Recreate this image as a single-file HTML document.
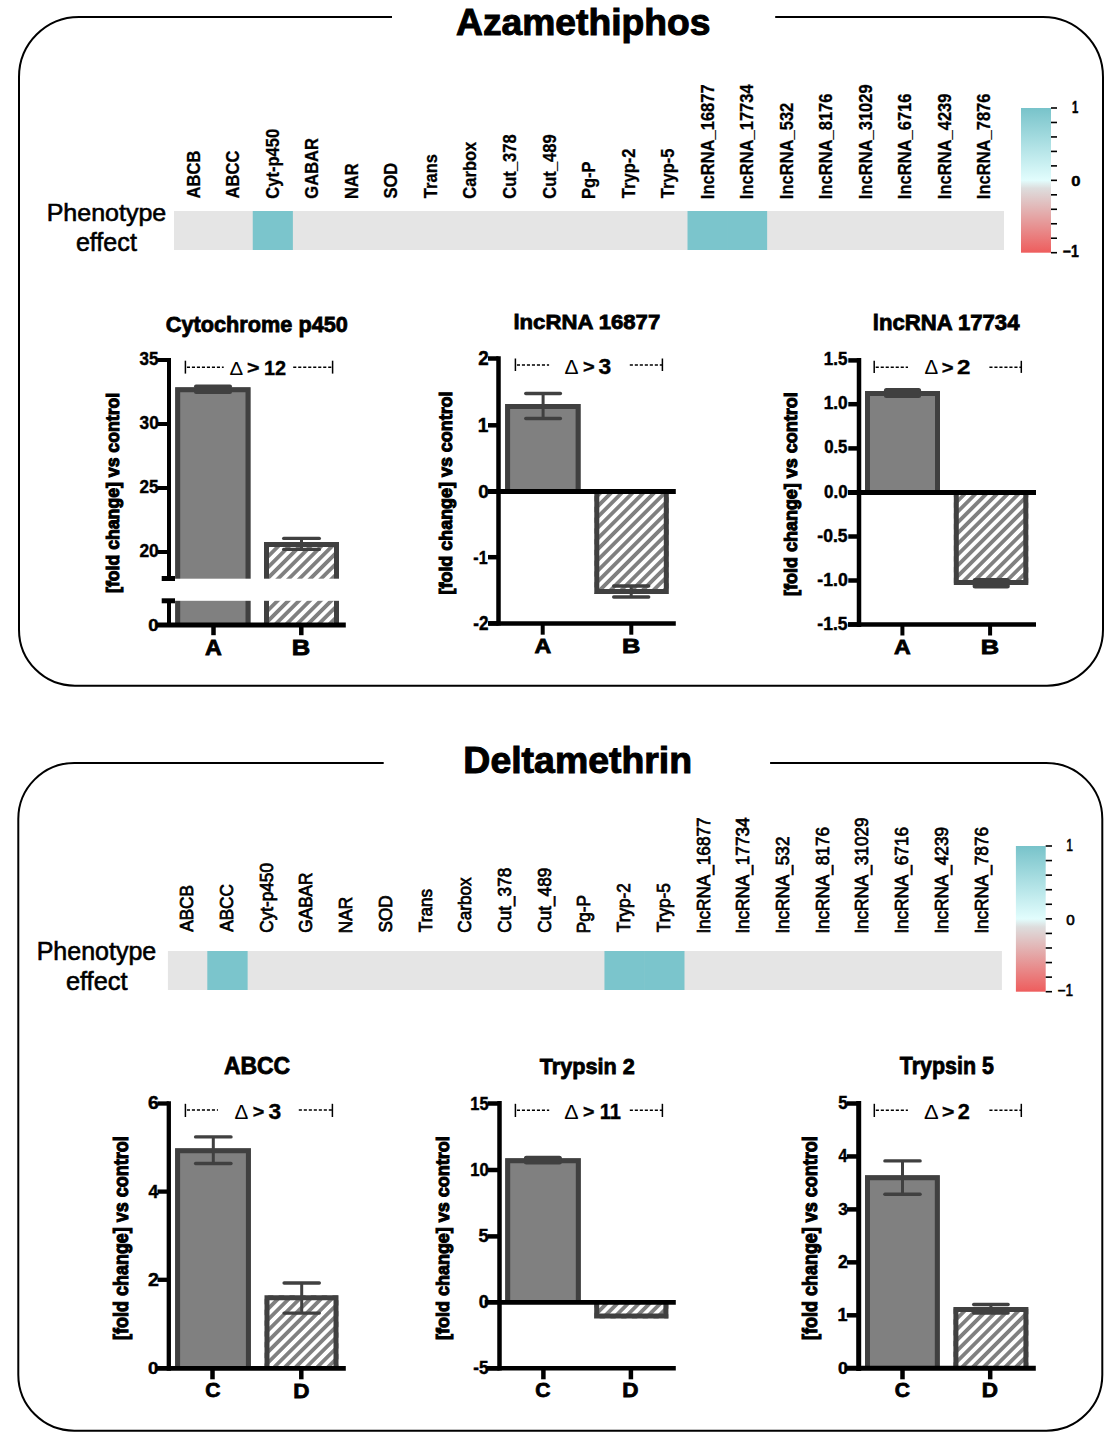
<!DOCTYPE html><html><head><meta charset="utf-8"><style>html,body{margin:0;padding:0;background:#fff;}svg{display:block;}</style></head><body><svg width="1117" height="1447" viewBox="0 0 1117 1447" style="font-family: 'Liberation Sans', sans-serif;">
<defs><pattern id="hatch" patternUnits="userSpaceOnUse" x="3.54" y="0" width="7.6" height="7.6" patternTransform="rotate(45)"><rect x="0" y="0" width="7.6" height="7.6" fill="#fff"/><rect x="0" y="0" width="3.8" height="7.6" fill="#808080"/></pattern></defs>
<rect x="0" y="0" width="1117" height="1447" fill="#fff"/>
<path d="M392,17 L79,17 A60,60 0 0 0 19,77 L19,629.7 A56,56 0 0 0 75,685.7 L1047,685.7 A56,56 0 0 0 1103,629.7 L1103,77 A60,60 0 0 0 1043,17 L775.2,17" fill="none" stroke="#000" stroke-width="2"/>
<text x="456.07" y="35.36" font-size="36.36" font-weight="bold" fill="#000" stroke="#000" stroke-width="1.0" textLength="254.39" lengthAdjust="spacingAndGlyphs">Azamethiphos</text>
<text x="46.7" y="220.66" font-size="24.49" font-weight="normal" fill="#000" stroke="#000" stroke-width="0.6" textLength="119.57" lengthAdjust="spacingAndGlyphs">Phenotype</text>
<text x="75.89" y="250.94" font-size="26.26" font-weight="normal" fill="#000" stroke="#000" stroke-width="0.6" textLength="61" lengthAdjust="spacingAndGlyphs">effect</text>
<rect x="174" y="211" width="830" height="39" fill="#e5e5e5"/>
<rect x="252.75" y="211" width="40.12" height="39" fill="#7bc5cc"/>
<rect x="687.51" y="211" width="40.12" height="39" fill="#7bc5cc"/>
<rect x="727.03" y="211" width="40.12" height="39" fill="#7bc5cc"/>
<text transform="translate(199.81,198.41) rotate(-90)" font-size="19" font-weight="bold" stroke="#000" stroke-width="0.3" textLength="47.75" lengthAdjust="spacingAndGlyphs">ABCB</text>
<text transform="translate(239.34,198.41) rotate(-90)" font-size="19" font-weight="bold" stroke="#000" stroke-width="0.3" textLength="47.75" lengthAdjust="spacingAndGlyphs">ABCC</text>
<text transform="translate(278.86,198.66) rotate(-90)" font-size="19" font-weight="bold" stroke="#000" stroke-width="0.3" textLength="69.82" lengthAdjust="spacingAndGlyphs">Cyt-p450</text>
<text transform="translate(318.38,198.66) rotate(-90)" font-size="19" font-weight="bold" stroke="#000" stroke-width="0.3" textLength="60.61" lengthAdjust="spacingAndGlyphs">GABAR</text>
<text transform="translate(357.91,199.07) rotate(-90)" font-size="19" font-weight="bold" stroke="#000" stroke-width="0.3" textLength="35.81" lengthAdjust="spacingAndGlyphs">NAR</text>
<text transform="translate(397.43,198.5) rotate(-90)" font-size="19" font-weight="bold" stroke="#000" stroke-width="0.3" textLength="35.82" lengthAdjust="spacingAndGlyphs">SOD</text>
<text transform="translate(436.95,198.17) rotate(-90)" font-size="19" font-weight="bold" stroke="#000" stroke-width="0.3" textLength="44.1" lengthAdjust="spacingAndGlyphs">Trans</text>
<text transform="translate(476.48,198.66) rotate(-90)" font-size="19" font-weight="bold" stroke="#000" stroke-width="0.3" textLength="56.95" lengthAdjust="spacingAndGlyphs">Carbox</text>
<text transform="translate(516,198.66) rotate(-90)" font-size="19" font-weight="bold" stroke="#000" stroke-width="0.3" textLength="64.31" lengthAdjust="spacingAndGlyphs">Cut_378</text>
<text transform="translate(555.53,198.66) rotate(-90)" font-size="19" font-weight="bold" stroke="#000" stroke-width="0.3" textLength="64.31" lengthAdjust="spacingAndGlyphs">Cut_489</text>
<text transform="translate(595.05,199.07) rotate(-90)" font-size="19" font-weight="bold" stroke="#000" stroke-width="0.3" textLength="37.65" lengthAdjust="spacingAndGlyphs">Pg-P</text>
<text transform="translate(634.57,198.17) rotate(-90)" font-size="19" font-weight="bold" stroke="#000" stroke-width="0.3" textLength="49.61" lengthAdjust="spacingAndGlyphs">Tryp-2</text>
<text transform="translate(674.1,198.17) rotate(-90)" font-size="19" font-weight="bold" stroke="#000" stroke-width="0.3" textLength="49.61" lengthAdjust="spacingAndGlyphs">Tryp-5</text>
<text transform="translate(713.62,199.16) rotate(-90)" font-size="19" font-weight="bold" stroke="#000" stroke-width="0.3" textLength="114.86" lengthAdjust="spacingAndGlyphs">lncRNA_16877</text>
<text transform="translate(753.15,199.16) rotate(-90)" font-size="19" font-weight="bold" stroke="#000" stroke-width="0.3" textLength="114.86" lengthAdjust="spacingAndGlyphs">lncRNA_17734</text>
<text transform="translate(792.67,199.16) rotate(-90)" font-size="19" font-weight="bold" stroke="#000" stroke-width="0.3" textLength="96.47" lengthAdjust="spacingAndGlyphs">lncRNA_532</text>
<text transform="translate(832.19,199.16) rotate(-90)" font-size="19" font-weight="bold" stroke="#000" stroke-width="0.3" textLength="105.66" lengthAdjust="spacingAndGlyphs">lncRNA_8176</text>
<text transform="translate(871.72,199.16) rotate(-90)" font-size="19" font-weight="bold" stroke="#000" stroke-width="0.3" textLength="114.86" lengthAdjust="spacingAndGlyphs">lncRNA_31029</text>
<text transform="translate(911.24,199.16) rotate(-90)" font-size="19" font-weight="bold" stroke="#000" stroke-width="0.3" textLength="105.66" lengthAdjust="spacingAndGlyphs">lncRNA_6716</text>
<text transform="translate(950.76,199.16) rotate(-90)" font-size="19" font-weight="bold" stroke="#000" stroke-width="0.3" textLength="105.66" lengthAdjust="spacingAndGlyphs">lncRNA_4239</text>
<text transform="translate(990.29,199.16) rotate(-90)" font-size="19" font-weight="bold" stroke="#000" stroke-width="0.3" textLength="105.66" lengthAdjust="spacingAndGlyphs">lncRNA_7876</text>
<defs><linearGradient id="cb1" x1="0" y1="0" x2="0" y2="1"><stop offset="0" stop-color="#78c3ca"/><stop offset="0.5" stop-color="#e2fdfd"/><stop offset="0.555" stop-color="#dddddd"/><stop offset="1" stop-color="#ee5d5d"/></linearGradient></defs>
<rect x="1021" y="108" width="30" height="144.7" fill="url(#cb1)"/>
<line x1="1051" y1="108" x2="1057" y2="108" stroke="#000" stroke-width="1.6" />
<line x1="1051" y1="122.47" x2="1057" y2="122.47" stroke="#000" stroke-width="1.6" />
<line x1="1051" y1="136.94" x2="1057" y2="136.94" stroke="#000" stroke-width="1.6" />
<line x1="1051" y1="151.41" x2="1057" y2="151.41" stroke="#000" stroke-width="1.6" />
<line x1="1051" y1="165.88" x2="1057" y2="165.88" stroke="#000" stroke-width="1.6" />
<line x1="1051" y1="180.35" x2="1057" y2="180.35" stroke="#000" stroke-width="1.6" />
<line x1="1051" y1="194.82" x2="1057" y2="194.82" stroke="#000" stroke-width="1.6" />
<line x1="1051" y1="209.29" x2="1057" y2="209.29" stroke="#000" stroke-width="1.6" />
<line x1="1051" y1="223.76" x2="1057" y2="223.76" stroke="#000" stroke-width="1.6" />
<line x1="1051" y1="238.23" x2="1057" y2="238.23" stroke="#000" stroke-width="1.6" />
<line x1="1051" y1="252.7" x2="1057" y2="252.7" stroke="#000" stroke-width="1.6" />
<text x="1072.12" y="113" font-size="15.8" font-weight="bold" fill="#000" stroke="#000" stroke-width="0.45" textLength="6.27" lengthAdjust="spacingAndGlyphs">1</text>
<text x="1071.23" y="185.66" font-size="14.37" font-weight="bold" fill="#000" stroke="#000" stroke-width="0.45" textLength="9.25" lengthAdjust="spacingAndGlyphs">0</text>
<text x="1062.63" y="256.7" font-size="16.52" font-weight="bold" fill="#000" stroke="#000" stroke-width="0.45" textLength="16.12" lengthAdjust="spacingAndGlyphs">−1</text>
<text x="165.83" y="331.85" font-size="22.14" font-weight="bold" fill="#000" stroke="#000" stroke-width="0.8" textLength="182.07" lengthAdjust="spacingAndGlyphs">Cytochrome p450</text>
<text transform="translate(118.96,592.97) rotate(-90)" x="0" y="0" font-size="19.25" font-weight="bold" fill="#000" stroke="#000" stroke-width="1.1" textLength="200.2" lengthAdjust="spacingAndGlyphs">[fold change] vs control</text>
<rect x="175.2" y="387.3" width="75.3" height="237.7" fill="#808080"/>
<path d="M177.7,625 L177.7,389.8 L248,389.8 L248,625" fill="none" stroke="#404040" stroke-width="5" stroke-linejoin="miter"/>
<rect x="264" y="542" width="75" height="83" fill="url(#hatch)"/>
<path d="M266.5,625 L266.5,544.5 L336.5,544.5 L336.5,625" fill="none" stroke="#404040" stroke-width="5" stroke-linejoin="miter"/>
<line x1="213" y1="386.5" x2="213" y2="392" stroke="#404040" stroke-width="3" />
<line x1="196" y1="386.5" x2="230" y2="386.5" stroke="#404040" stroke-width="4" stroke-linecap="round"/>
<line x1="196" y1="392" x2="230" y2="392" stroke="#404040" stroke-width="4" stroke-linecap="round"/>
<line x1="301.5" y1="538.4" x2="301.5" y2="549.4" stroke="#404040" stroke-width="3" />
<line x1="283.7" y1="538.4" x2="319.3" y2="538.4" stroke="#404040" stroke-width="3.4" stroke-linecap="round"/>
<line x1="283.7" y1="549.4" x2="319.3" y2="549.4" stroke="#404040" stroke-width="3.4" stroke-linecap="round"/>
<rect x="150" y="578.7" width="195" height="22.1" fill="#fff"/>
<line x1="169" y1="358" x2="169" y2="578.5" stroke="#000" stroke-width="4" />
<line x1="169" y1="600.8" x2="169" y2="627" stroke="#000" stroke-width="4" />
<line x1="161.7" y1="578.5" x2="175" y2="578.5" stroke="#000" stroke-width="5" />
<line x1="161.7" y1="600.8" x2="175" y2="600.8" stroke="#000" stroke-width="5" />
<line x1="157.3" y1="360" x2="169" y2="360" stroke="#000" stroke-width="4" />
<text x="139.58" y="365.31" font-size="19.01" font-weight="bold" fill="#000" stroke="#000" stroke-width="0.45" textLength="18.89" lengthAdjust="spacingAndGlyphs">35</text>
<line x1="157.3" y1="424" x2="169" y2="424" stroke="#000" stroke-width="4" />
<text x="139.57" y="429.31" font-size="19.01" font-weight="bold" fill="#000" stroke="#000" stroke-width="0.45" textLength="19.16" lengthAdjust="spacingAndGlyphs">30</text>
<line x1="157.3" y1="488" x2="169" y2="488" stroke="#000" stroke-width="4" />
<text x="139.4" y="493.31" font-size="19.01" font-weight="bold" fill="#000" stroke="#000" stroke-width="0.45" textLength="19.07" lengthAdjust="spacingAndGlyphs">25</text>
<line x1="157.3" y1="552" x2="169" y2="552" stroke="#000" stroke-width="4" />
<text x="139.39" y="557.31" font-size="19.01" font-weight="bold" fill="#000" stroke="#000" stroke-width="0.45" textLength="19.35" lengthAdjust="spacingAndGlyphs">20</text>
<text x="148.16" y="631.13" font-size="16.62" font-weight="bold" fill="#000" stroke="#000" stroke-width="0.45" textLength="10.3" lengthAdjust="spacingAndGlyphs">0</text>
<line x1="155.8" y1="625" x2="345.8" y2="625" stroke="#000" stroke-width="5" />
<line x1="213.5" y1="625" x2="213.5" y2="635.2" stroke="#000" stroke-width="4.5" />
<text x="205.12" y="655" font-size="21.74" font-weight="bold" fill="#000" stroke="#000" stroke-width="0.8" textLength="16.82" lengthAdjust="spacingAndGlyphs">A</text>
<line x1="301.3" y1="625" x2="301.3" y2="635.2" stroke="#000" stroke-width="4.5" />
<text x="291.84" y="655" font-size="21.74" font-weight="bold" fill="#000" stroke="#000" stroke-width="0.8" textLength="18.47" lengthAdjust="spacingAndGlyphs">B</text>
<line x1="185.4" y1="360.7" x2="185.4" y2="373.6" stroke="#000" stroke-width="1.5" />
<line x1="332.6" y1="360.7" x2="332.6" y2="373.6" stroke="#000" stroke-width="1.5" />
<line x1="186.9" y1="367.2" x2="223.7" y2="367.2" stroke="#000" stroke-width="1.5" stroke-dasharray="3.1,1.9"/>
<line x1="293.2" y1="367.2" x2="332.6" y2="367.2" stroke="#000" stroke-width="1.5" stroke-dasharray="3.1,1.9"/>
<text x="229.49" y="374.6" font-size="18.99" font-weight="normal" fill="#000" stroke="#000" stroke-width="0" textLength="13.69" lengthAdjust="spacingAndGlyphs">Δ</text>
<text x="247.14" y="373.56" font-size="17.59" font-weight="bold" fill="#000" stroke="#000" stroke-width="0.35" textLength="12.49" lengthAdjust="spacingAndGlyphs">&gt;</text>
<text x="264.01" y="374.6" font-size="20.43" font-weight="bold" fill="#000" stroke="#000" stroke-width="0.35" textLength="22.14" lengthAdjust="spacingAndGlyphs">12</text>
<text x="513.45" y="328.5" font-size="20.27" font-weight="bold" fill="#000" stroke="#000" stroke-width="0.8" textLength="146.8" lengthAdjust="spacingAndGlyphs">lncRNA 16877</text>
<text transform="translate(452.27,594.49) rotate(-90)" x="0" y="0" font-size="18.72" font-weight="bold" fill="#000" stroke="#000" stroke-width="1.1" textLength="203.03" lengthAdjust="spacingAndGlyphs">[fold change] vs control</text>
<rect x="505.1" y="404" width="75.5" height="87.5" fill="#808080"/>
<path d="M507.6,491.5 L507.6,406.5 L578.1,406.5 L578.1,491.5" fill="none" stroke="#404040" stroke-width="5" stroke-linejoin="miter"/>
<rect x="594.3" y="491.5" width="74.5" height="102.5" fill="url(#hatch)"/>
<path d="M596.8,491.5 L596.8,591.5 L666.3,591.5 L666.3,491.5" fill="none" stroke="#404040" stroke-width="5" stroke-linejoin="miter"/>
<line x1="543.1" y1="393.5" x2="543.1" y2="418.5" stroke="#404040" stroke-width="3" />
<line x1="525.8" y1="393.5" x2="560.4" y2="393.5" stroke="#404040" stroke-width="3.4" stroke-linecap="round"/>
<line x1="525.8" y1="418.5" x2="560.4" y2="418.5" stroke="#404040" stroke-width="3.4" stroke-linecap="round"/>
<line x1="631.2" y1="586" x2="631.2" y2="597" stroke="#404040" stroke-width="3" />
<line x1="613.7" y1="586" x2="648.7" y2="586" stroke="#404040" stroke-width="3.4" stroke-linecap="round"/>
<line x1="613.7" y1="597" x2="648.7" y2="597" stroke="#404040" stroke-width="3.4" stroke-linecap="round"/>
<line x1="498.5" y1="356.3" x2="498.5" y2="625.4" stroke="#000" stroke-width="4.5" />
<line x1="488" y1="358.5" x2="498.5" y2="358.5" stroke="#000" stroke-width="4.5" />
<line x1="488" y1="425.3" x2="498.5" y2="425.3" stroke="#000" stroke-width="4.5" />
<line x1="488" y1="557.2" x2="498.5" y2="557.2" stroke="#000" stroke-width="4.5" />
<line x1="488" y1="623.4" x2="498.5" y2="623.4" stroke="#000" stroke-width="4.5" />
<text x="478.34" y="365" font-size="19.29" font-weight="bold" fill="#000" stroke="#000" stroke-width="0.45" textLength="10.43" lengthAdjust="spacingAndGlyphs">2</text>
<text x="477.85" y="431.8" font-size="19.57" font-weight="bold" fill="#000" stroke="#000" stroke-width="0.45" textLength="10.65" lengthAdjust="spacingAndGlyphs">1</text>
<text x="478.24" y="497.81" font-size="19.01" font-weight="bold" fill="#000" stroke="#000" stroke-width="0.45" textLength="10.54" lengthAdjust="spacingAndGlyphs">0</text>
<text x="473.36" y="563.7" font-size="19.28" font-weight="bold" fill="#000" stroke="#000" stroke-width="0.45" textLength="14.23" lengthAdjust="spacingAndGlyphs">-1</text>
<text x="473.32" y="629.9" font-size="19.29" font-weight="bold" fill="#000" stroke="#000" stroke-width="0.45" textLength="15.15" lengthAdjust="spacingAndGlyphs">-2</text>
<line x1="488" y1="491.5" x2="675.8" y2="491.5" stroke="#000" stroke-width="5" />
<line x1="488.4" y1="623.4" x2="675.8" y2="623.4" stroke="#000" stroke-width="4.5" />
<line x1="542.7" y1="623" x2="542.7" y2="634.7" stroke="#000" stroke-width="4" />
<text x="534.42" y="652.8" font-size="20.29" font-weight="bold" fill="#000" stroke="#000" stroke-width="0.8" textLength="16.71" lengthAdjust="spacingAndGlyphs">A</text>
<line x1="631.3" y1="623" x2="631.3" y2="634.7" stroke="#000" stroke-width="4" />
<text x="621.95" y="652.8" font-size="20.29" font-weight="bold" fill="#000" stroke="#000" stroke-width="0.8" textLength="18.35" lengthAdjust="spacingAndGlyphs">B</text>
<line x1="515.4" y1="358.5" x2="515.4" y2="371" stroke="#000" stroke-width="1.5" />
<line x1="662.4" y1="358.5" x2="662.4" y2="371" stroke="#000" stroke-width="1.5" />
<line x1="516.9" y1="365" x2="549.1" y2="365" stroke="#000" stroke-width="1.5" stroke-dasharray="3.1,1.9"/>
<line x1="629.8" y1="365" x2="662.4" y2="365" stroke="#000" stroke-width="1.5" stroke-dasharray="3.1,1.9"/>
<text x="564.57" y="374" font-size="21.01" font-weight="normal" fill="#000" stroke="#000" stroke-width="0" textLength="14.02" lengthAdjust="spacingAndGlyphs">Δ</text>
<text x="583.1" y="372.56" font-size="17.59" font-weight="bold" fill="#000" stroke="#000" stroke-width="0.35" textLength="11.68" lengthAdjust="spacingAndGlyphs">&gt;</text>
<text x="598.43" y="373.77" font-size="22.54" font-weight="bold" fill="#000" stroke="#000" stroke-width="0.35" textLength="12.7" lengthAdjust="spacingAndGlyphs">3</text>
<text x="872.75" y="329.89" font-size="21.5" font-weight="bold" fill="#000" stroke="#000" stroke-width="0.8" textLength="146.72" lengthAdjust="spacingAndGlyphs">lncRNA 17734</text>
<text transform="translate(797.38,595.99) rotate(-90)" x="0" y="0" font-size="19.14" font-weight="bold" fill="#000" stroke="#000" stroke-width="1.1" textLength="203.73" lengthAdjust="spacingAndGlyphs">[fold change] vs control</text>
<rect x="865" y="391" width="75" height="101.6" fill="#808080"/>
<path d="M867.5,492.6 L867.5,393.5 L937.5,393.5 L937.5,492.6" fill="none" stroke="#404040" stroke-width="5" stroke-linejoin="miter"/>
<rect x="953.8" y="492.6" width="74.5" height="92.4" fill="url(#hatch)"/>
<path d="M956.3,492.6 L956.3,582.5 L1025.8,582.5 L1025.8,492.6" fill="none" stroke="#404040" stroke-width="5" stroke-linejoin="miter"/>
<line x1="902.5" y1="390.5" x2="902.5" y2="395.5" stroke="#404040" stroke-width="3" />
<line x1="886.4" y1="390.5" x2="918.6" y2="390.5" stroke="#404040" stroke-width="5" stroke-linecap="round"/>
<line x1="886.4" y1="395.5" x2="918.6" y2="395.5" stroke="#404040" stroke-width="5" stroke-linecap="round"/>
<line x1="991.2" y1="580.5" x2="991.2" y2="586" stroke="#404040" stroke-width="3" />
<line x1="975.1" y1="580.5" x2="1007.3" y2="580.5" stroke="#404040" stroke-width="5" stroke-linecap="round"/>
<line x1="975.1" y1="586" x2="1007.3" y2="586" stroke="#404040" stroke-width="5" stroke-linecap="round"/>
<line x1="859" y1="358.1" x2="859" y2="627" stroke="#000" stroke-width="4.5" />
<line x1="848.3" y1="360.4" x2="859" y2="360.4" stroke="#000" stroke-width="4.5" />
<text x="823.78" y="365.32" font-size="17.86" font-weight="bold" fill="#000" stroke="#000" stroke-width="0.45" textLength="23.65" lengthAdjust="spacingAndGlyphs">1.5</text>
<line x1="848.3" y1="404.2" x2="859" y2="404.2" stroke="#000" stroke-width="4.5" />
<text x="823.77" y="409.12" font-size="17.61" font-weight="bold" fill="#000" stroke="#000" stroke-width="0.45" textLength="23.92" lengthAdjust="spacingAndGlyphs">1.0</text>
<line x1="848.3" y1="448.4" x2="859" y2="448.4" stroke="#000" stroke-width="4.5" />
<text x="824.13" y="453.32" font-size="17.61" font-weight="bold" fill="#000" stroke="#000" stroke-width="0.45" textLength="23.29" lengthAdjust="spacingAndGlyphs">0.5</text>
<line x1="848.3" y1="492.6" x2="859" y2="492.6" stroke="#000" stroke-width="4.5" />
<text x="824.12" y="497.52" font-size="17.61" font-weight="bold" fill="#000" stroke="#000" stroke-width="0.45" textLength="23.56" lengthAdjust="spacingAndGlyphs">0.0</text>
<line x1="848.3" y1="536.5" x2="859" y2="536.5" stroke="#000" stroke-width="4.5" />
<text x="817.3" y="541.82" font-size="17.61" font-weight="bold" fill="#000" stroke="#000" stroke-width="0.45" textLength="30.2" lengthAdjust="spacingAndGlyphs">-0.5</text>
<line x1="848.3" y1="580.5" x2="859" y2="580.5" stroke="#000" stroke-width="4.5" />
<text x="817.29" y="585.82" font-size="17.61" font-weight="bold" fill="#000" stroke="#000" stroke-width="0.45" textLength="30.47" lengthAdjust="spacingAndGlyphs">-1.0</text>
<line x1="848.3" y1="624.5" x2="859" y2="624.5" stroke="#000" stroke-width="4.5" />
<text x="817.3" y="629.82" font-size="17.86" font-weight="bold" fill="#000" stroke="#000" stroke-width="0.45" textLength="30.2" lengthAdjust="spacingAndGlyphs">-1.5</text>
<line x1="848" y1="492.6" x2="1036" y2="492.6" stroke="#000" stroke-width="5" />
<line x1="848" y1="624.5" x2="1036" y2="624.5" stroke="#000" stroke-width="4.5" />
<line x1="902.4" y1="624" x2="902.4" y2="635.5" stroke="#000" stroke-width="4" />
<text x="894.12" y="653.5" font-size="20.29" font-weight="bold" fill="#000" stroke="#000" stroke-width="0.8" textLength="16.71" lengthAdjust="spacingAndGlyphs">A</text>
<line x1="990.1" y1="624" x2="990.1" y2="635.5" stroke="#000" stroke-width="4" />
<text x="980.75" y="653.5" font-size="20.29" font-weight="bold" fill="#000" stroke="#000" stroke-width="0.8" textLength="18.35" lengthAdjust="spacingAndGlyphs">B</text>
<line x1="874.2" y1="360.8" x2="874.2" y2="372.9" stroke="#000" stroke-width="1.5" />
<line x1="1021.3" y1="360.8" x2="1021.3" y2="372.9" stroke="#000" stroke-width="1.5" />
<line x1="875.7" y1="367.3" x2="908" y2="367.3" stroke="#000" stroke-width="1.5" stroke-dasharray="3.1,1.9"/>
<line x1="989.4" y1="367.3" x2="1021.3" y2="367.3" stroke="#000" stroke-width="1.5" stroke-dasharray="3.1,1.9"/>
<text x="924.49" y="374" font-size="19.57" font-weight="normal" fill="#000" stroke="#000" stroke-width="0" textLength="13.69" lengthAdjust="spacingAndGlyphs">Δ</text>
<text x="941.69" y="373.56" font-size="17.59" font-weight="bold" fill="#000" stroke="#000" stroke-width="0.35" textLength="11.8" lengthAdjust="spacingAndGlyphs">&gt;</text>
<text x="956.95" y="374" font-size="20.71" font-weight="bold" fill="#000" stroke="#000" stroke-width="0.35" textLength="13.44" lengthAdjust="spacingAndGlyphs">2</text>
<path d="M383.7,763 L74.3,763 A56,56 0 0 0 18.3,819 L18.3,1374.7 A56,56 0 0 0 74.3,1430.7 L1046.3,1430.7 A56,56 0 0 0 1102.3,1374.7 L1102.3,819 A56,56 0 0 0 1046.3,763 L770.1,763" fill="none" stroke="#000" stroke-width="2"/>
<text x="463.37" y="773.04" font-size="36.46" font-weight="bold" fill="#000" stroke="#000" stroke-width="1.0" textLength="228.77" lengthAdjust="spacingAndGlyphs">Deltamethrin</text>
<text x="36.7" y="959.74" font-size="25.03" font-weight="normal" fill="#000" stroke="#000" stroke-width="0.6" textLength="119.57" lengthAdjust="spacingAndGlyphs">Phenotype</text>
<text x="65.88" y="989.75" font-size="25.44" font-weight="normal" fill="#000" stroke="#000" stroke-width="0.6" textLength="61.61" lengthAdjust="spacingAndGlyphs">effect</text>
<rect x="167.9" y="951" width="834" height="39" fill="#e5e5e5"/>
<rect x="207.31" y="951" width="40.31" height="39" fill="#7bc5cc"/>
<rect x="604.46" y="951" width="40.31" height="39" fill="#7bc5cc"/>
<rect x="644.17" y="951" width="40.31" height="39" fill="#7bc5cc"/>
<text transform="translate(193.23,931.8) rotate(-90)" font-size="18.5" font-weight="normal" stroke="#000" stroke-width="0.75" textLength="46.73" lengthAdjust="spacingAndGlyphs">ABCB</text>
<text transform="translate(232.95,931.8) rotate(-90)" font-size="18.5" font-weight="normal" stroke="#000" stroke-width="0.75" textLength="47.68" lengthAdjust="spacingAndGlyphs">ABCC</text>
<text transform="translate(272.66,932.66) rotate(-90)" font-size="18.5" font-weight="normal" stroke="#000" stroke-width="0.75" textLength="69.63" lengthAdjust="spacingAndGlyphs">Cyt-p450</text>
<text transform="translate(312.38,932.66) rotate(-90)" font-size="18.5" font-weight="normal" stroke="#000" stroke-width="0.75" textLength="60.08" lengthAdjust="spacingAndGlyphs">GABAR</text>
<text transform="translate(352.09,933.17) rotate(-90)" font-size="18.5" font-weight="normal" stroke="#000" stroke-width="0.75" textLength="36.23" lengthAdjust="spacingAndGlyphs">NAR</text>
<text transform="translate(391.8,932.57) rotate(-90)" font-size="18.5" font-weight="normal" stroke="#000" stroke-width="0.75" textLength="37.19" lengthAdjust="spacingAndGlyphs">SOD</text>
<text transform="translate(431.52,932.14) rotate(-90)" font-size="18.5" font-weight="normal" stroke="#000" stroke-width="0.75" textLength="43.23" lengthAdjust="spacingAndGlyphs">Trans</text>
<text transform="translate(471.23,932.66) rotate(-90)" font-size="18.5" font-weight="normal" stroke="#000" stroke-width="0.75" textLength="55.32" lengthAdjust="spacingAndGlyphs">Carbox</text>
<text transform="translate(510.95,932.66) rotate(-90)" font-size="18.5" font-weight="normal" stroke="#000" stroke-width="0.75" textLength="64.88" lengthAdjust="spacingAndGlyphs">Cut_378</text>
<text transform="translate(550.66,932.66) rotate(-90)" font-size="18.5" font-weight="normal" stroke="#000" stroke-width="0.75" textLength="64.88" lengthAdjust="spacingAndGlyphs">Cut_489</text>
<text transform="translate(590.38,933.17) rotate(-90)" font-size="18.5" font-weight="normal" stroke="#000" stroke-width="0.75" textLength="38.15" lengthAdjust="spacingAndGlyphs">Pg-P</text>
<text transform="translate(630.09,932.14) rotate(-90)" font-size="18.5" font-weight="normal" stroke="#000" stroke-width="0.75" textLength="48.95" lengthAdjust="spacingAndGlyphs">Tryp-2</text>
<text transform="translate(669.8,932.14) rotate(-90)" font-size="18.5" font-weight="normal" stroke="#000" stroke-width="0.75" textLength="48.95" lengthAdjust="spacingAndGlyphs">Tryp-5</text>
<text transform="translate(709.52,932.92) rotate(-90)" font-size="18.5" font-weight="normal" stroke="#000" stroke-width="0.75" textLength="115.44" lengthAdjust="spacingAndGlyphs">lncRNA_16877</text>
<text transform="translate(749.23,932.92) rotate(-90)" font-size="18.5" font-weight="normal" stroke="#000" stroke-width="0.75" textLength="115.44" lengthAdjust="spacingAndGlyphs">lncRNA_17734</text>
<text transform="translate(788.95,932.92) rotate(-90)" font-size="18.5" font-weight="normal" stroke="#000" stroke-width="0.75" textLength="96.35" lengthAdjust="spacingAndGlyphs">lncRNA_532</text>
<text transform="translate(828.66,932.92) rotate(-90)" font-size="18.5" font-weight="normal" stroke="#000" stroke-width="0.75" textLength="105.89" lengthAdjust="spacingAndGlyphs">lncRNA_8176</text>
<text transform="translate(868.38,932.92) rotate(-90)" font-size="18.5" font-weight="normal" stroke="#000" stroke-width="0.75" textLength="115.44" lengthAdjust="spacingAndGlyphs">lncRNA_31029</text>
<text transform="translate(908.09,932.92) rotate(-90)" font-size="18.5" font-weight="normal" stroke="#000" stroke-width="0.75" textLength="105.89" lengthAdjust="spacingAndGlyphs">lncRNA_6716</text>
<text transform="translate(947.8,932.92) rotate(-90)" font-size="18.5" font-weight="normal" stroke="#000" stroke-width="0.75" textLength="105.89" lengthAdjust="spacingAndGlyphs">lncRNA_4239</text>
<text transform="translate(987.52,932.92) rotate(-90)" font-size="18.5" font-weight="normal" stroke="#000" stroke-width="0.75" textLength="105.89" lengthAdjust="spacingAndGlyphs">lncRNA_7876</text>
<defs><linearGradient id="cb2" x1="0" y1="0" x2="0" y2="1"><stop offset="0" stop-color="#78c3ca"/><stop offset="0.5" stop-color="#e2fdfd"/><stop offset="0.555" stop-color="#dddddd"/><stop offset="1" stop-color="#ee5d5d"/></linearGradient></defs>
<rect x="1015.9" y="846" width="29.8" height="145.7" fill="url(#cb2)"/>
<line x1="1045.7" y1="846" x2="1052" y2="846" stroke="#000" stroke-width="1.6" />
<line x1="1045.7" y1="860.57" x2="1052" y2="860.57" stroke="#000" stroke-width="1.6" />
<line x1="1045.7" y1="875.14" x2="1052" y2="875.14" stroke="#000" stroke-width="1.6" />
<line x1="1045.7" y1="889.71" x2="1052" y2="889.71" stroke="#000" stroke-width="1.6" />
<line x1="1045.7" y1="904.28" x2="1052" y2="904.28" stroke="#000" stroke-width="1.6" />
<line x1="1045.7" y1="918.85" x2="1052" y2="918.85" stroke="#000" stroke-width="1.6" />
<line x1="1045.7" y1="933.42" x2="1052" y2="933.42" stroke="#000" stroke-width="1.6" />
<line x1="1045.7" y1="947.99" x2="1052" y2="947.99" stroke="#000" stroke-width="1.6" />
<line x1="1045.7" y1="962.56" x2="1052" y2="962.56" stroke="#000" stroke-width="1.6" />
<line x1="1045.7" y1="977.13" x2="1052" y2="977.13" stroke="#000" stroke-width="1.6" />
<line x1="1045.7" y1="991.7" x2="1052" y2="991.7" stroke="#000" stroke-width="1.6" />
<text x="1066.19" y="850.6" font-size="15.8" font-weight="normal" fill="#000" stroke="#000" stroke-width="0.6" textLength="6.78" lengthAdjust="spacingAndGlyphs">1</text>
<text x="1066.19" y="924.55" font-size="14.51" font-weight="normal" fill="#000" stroke="#000" stroke-width="0.6" textLength="8.46" lengthAdjust="spacingAndGlyphs">0</text>
<text x="1057.42" y="996" font-size="15.8" font-weight="normal" fill="#000" stroke="#000" stroke-width="0.6" textLength="15.6" lengthAdjust="spacingAndGlyphs">−1</text>
<text x="223.93" y="1073.76" font-size="23.66" font-weight="bold" fill="#000" stroke="#000" stroke-width="0.8" textLength="66.23" lengthAdjust="spacingAndGlyphs">ABCC</text>
<text transform="translate(128.23,1339.99) rotate(-90)" x="0" y="0" font-size="20.32" font-weight="bold" fill="#000" stroke="#000" stroke-width="1.1" textLength="203.73" lengthAdjust="spacingAndGlyphs">[fold change] vs control</text>
<rect x="175.1" y="1148.3" width="75.8" height="220.1" fill="#808080"/>
<path d="M177.6,1368.4 L177.6,1150.8 L248.4,1150.8 L248.4,1368.4" fill="none" stroke="#404040" stroke-width="5" stroke-linejoin="miter"/>
<rect x="264.5" y="1295.2" width="74" height="73.2" fill="url(#hatch)"/>
<path d="M267,1368.4 L267,1297.7 L336,1297.7 L336,1368.4" fill="none" stroke="#404040" stroke-width="5" stroke-linejoin="miter"/>
<line x1="213.3" y1="1136.9" x2="213.3" y2="1163.5" stroke="#404040" stroke-width="3" />
<line x1="195.6" y1="1136.9" x2="231" y2="1136.9" stroke="#404040" stroke-width="3.4" stroke-linecap="round"/>
<line x1="195.6" y1="1163.5" x2="231" y2="1163.5" stroke="#404040" stroke-width="3.4" stroke-linecap="round"/>
<line x1="301.7" y1="1283" x2="301.7" y2="1313.1" stroke="#404040" stroke-width="3" />
<line x1="284.1" y1="1283" x2="319.3" y2="1283" stroke="#404040" stroke-width="3.4" stroke-linecap="round"/>
<line x1="284.1" y1="1313.1" x2="319.3" y2="1313.1" stroke="#404040" stroke-width="3.4" stroke-linecap="round"/>
<line x1="168.8" y1="1101.3" x2="168.8" y2="1370.8" stroke="#000" stroke-width="4.3" />
<line x1="157.5" y1="1103.5" x2="168.8" y2="1103.5" stroke="#000" stroke-width="4.3" />
<text x="148.12" y="1109.32" font-size="17.61" font-weight="bold" fill="#000" stroke="#000" stroke-width="0.45" textLength="10.78" lengthAdjust="spacingAndGlyphs">6</text>
<line x1="157.5" y1="1191.6" x2="168.8" y2="1191.6" stroke="#000" stroke-width="4.3" />
<text x="148.54" y="1197.6" font-size="18.12" font-weight="bold" fill="#000" stroke="#000" stroke-width="0.45" textLength="9.77" lengthAdjust="spacingAndGlyphs">4</text>
<line x1="157.5" y1="1279.8" x2="168.8" y2="1279.8" stroke="#000" stroke-width="4.3" />
<text x="148.11" y="1285.8" font-size="17.86" font-weight="bold" fill="#000" stroke="#000" stroke-width="0.45" textLength="10.89" lengthAdjust="spacingAndGlyphs">2</text>
<text x="148.05" y="1374.33" font-size="16.9" font-weight="bold" fill="#000" stroke="#000" stroke-width="0.45" textLength="10.42" lengthAdjust="spacingAndGlyphs">0</text>
<line x1="155.8" y1="1368.4" x2="345.8" y2="1368.4" stroke="#000" stroke-width="4.7" />
<line x1="212.5" y1="1368" x2="212.5" y2="1379.3" stroke="#000" stroke-width="4.5" />
<text x="205.16" y="1397.4" font-size="20.14" font-weight="bold" fill="#000" stroke="#000" stroke-width="0.8" textLength="15.22" lengthAdjust="spacingAndGlyphs">C</text>
<line x1="301.3" y1="1368" x2="301.3" y2="1379.3" stroke="#000" stroke-width="4.5" />
<text x="293.34" y="1397.6" font-size="20.72" font-weight="bold" fill="#000" stroke="#000" stroke-width="0.8" textLength="16.21" lengthAdjust="spacingAndGlyphs">D</text>
<line x1="185.4" y1="1103.8" x2="185.4" y2="1117" stroke="#000" stroke-width="1.5" />
<line x1="332.4" y1="1103.8" x2="332.4" y2="1117" stroke="#000" stroke-width="1.5" />
<line x1="186.9" y1="1110.1" x2="218" y2="1110.1" stroke="#000" stroke-width="1.5" stroke-dasharray="3.1,1.9"/>
<line x1="298.8" y1="1110.1" x2="332.4" y2="1110.1" stroke="#000" stroke-width="1.5" stroke-dasharray="3.1,1.9"/>
<text x="234.58" y="1118.9" font-size="20.87" font-weight="normal" fill="#000" stroke="#000" stroke-width="0" textLength="13.8" lengthAdjust="spacingAndGlyphs">Δ</text>
<text x="252.71" y="1117.56" font-size="17.59" font-weight="bold" fill="#000" stroke="#000" stroke-width="0.35" textLength="11.56" lengthAdjust="spacingAndGlyphs">&gt;</text>
<text x="268.43" y="1118.77" font-size="22.54" font-weight="bold" fill="#000" stroke="#000" stroke-width="0.35" textLength="12.7" lengthAdjust="spacingAndGlyphs">3</text>
<text x="539.78" y="1074.08" font-size="22.46" font-weight="bold" fill="#000" stroke="#000" stroke-width="0.8" textLength="95.1" lengthAdjust="spacingAndGlyphs">Trypsin 2</text>
<text transform="translate(448.87,1339.99) rotate(-90)" x="0" y="0" font-size="18.72" font-weight="bold" fill="#000" stroke="#000" stroke-width="1.1" textLength="203.73" lengthAdjust="spacingAndGlyphs">[fold change] vs control</text>
<rect x="505.2" y="1158.2" width="75.6" height="144.1" fill="#808080"/>
<path d="M507.7,1302.3 L507.7,1160.7 L578.3,1160.7 L578.3,1302.3" fill="none" stroke="#404040" stroke-width="5" stroke-linejoin="miter"/>
<rect x="594.2" y="1302.3" width="74.2" height="16.2" fill="url(#hatch)"/>
<path d="M596.7,1302.3 L596.7,1316 L665.9,1316 L665.9,1302.3" fill="none" stroke="#404040" stroke-width="5" stroke-linejoin="miter"/>
<line x1="542.9" y1="1158.2" x2="542.9" y2="1162" stroke="#404040" stroke-width="3" />
<line x1="526.4" y1="1158.2" x2="559.4" y2="1158.2" stroke="#404040" stroke-width="5" stroke-linecap="round"/>
<line x1="526.4" y1="1162" x2="559.4" y2="1162" stroke="#404040" stroke-width="5" stroke-linecap="round"/>
<line x1="499.5" y1="1101.1" x2="499.5" y2="1370.6" stroke="#000" stroke-width="4.5" />
<line x1="487.5" y1="1103.5" x2="499.5" y2="1103.5" stroke="#000" stroke-width="4.5" />
<line x1="487.5" y1="1170" x2="499.5" y2="1170" stroke="#000" stroke-width="4.5" />
<line x1="487.5" y1="1236.4" x2="499.5" y2="1236.4" stroke="#000" stroke-width="4.5" />
<line x1="487.5" y1="1368.3" x2="499.5" y2="1368.3" stroke="#000" stroke-width="4.5" />
<text x="470.32" y="1109.62" font-size="18.14" font-weight="bold" fill="#000" stroke="#000" stroke-width="0.45" textLength="18.23" lengthAdjust="spacingAndGlyphs">15</text>
<text x="470.3" y="1176.12" font-size="17.89" font-weight="bold" fill="#000" stroke="#000" stroke-width="0.45" textLength="18.5" lengthAdjust="spacingAndGlyphs">10</text>
<text x="478.45" y="1242.32" font-size="17.86" font-weight="bold" fill="#000" stroke="#000" stroke-width="0.45" textLength="10.12" lengthAdjust="spacingAndGlyphs">5</text>
<text x="478.78" y="1308.32" font-size="17.61" font-weight="bold" fill="#000" stroke="#000" stroke-width="0.45" textLength="10.07" lengthAdjust="spacingAndGlyphs">0</text>
<text x="473.32" y="1374.32" font-size="17.86" font-weight="bold" fill="#000" stroke="#000" stroke-width="0.45" textLength="15.2" lengthAdjust="spacingAndGlyphs">-5</text>
<line x1="484.7" y1="1302.3" x2="675.8" y2="1302.3" stroke="#000" stroke-width="4.7" />
<line x1="487" y1="1368.3" x2="675.8" y2="1368.3" stroke="#000" stroke-width="4.6" />
<line x1="543.4" y1="1368" x2="543.4" y2="1379.3" stroke="#000" stroke-width="4.5" />
<text x="535.36" y="1397.2" font-size="19.72" font-weight="bold" fill="#000" stroke="#000" stroke-width="0.8" textLength="15.22" lengthAdjust="spacingAndGlyphs">C</text>
<line x1="630.9" y1="1368" x2="630.9" y2="1379.3" stroke="#000" stroke-width="4.5" />
<text x="622.24" y="1397.4" font-size="20.29" font-weight="bold" fill="#000" stroke="#000" stroke-width="0.8" textLength="16.21" lengthAdjust="spacingAndGlyphs">D</text>
<line x1="515.4" y1="1103.8" x2="515.4" y2="1117" stroke="#000" stroke-width="1.5" />
<line x1="662.4" y1="1103.8" x2="662.4" y2="1117" stroke="#000" stroke-width="1.5" />
<line x1="516.9" y1="1110.2" x2="549.2" y2="1110.2" stroke="#000" stroke-width="1.5" stroke-dasharray="3.1,1.9"/>
<line x1="629.8" y1="1110.2" x2="662.4" y2="1110.2" stroke="#000" stroke-width="1.5" stroke-dasharray="3.1,1.9"/>
<text x="564.36" y="1118.9" font-size="20.87" font-weight="normal" fill="#000" stroke="#000" stroke-width="0" textLength="14.34" lengthAdjust="spacingAndGlyphs">Δ</text>
<text x="583.12" y="1117.56" font-size="17.59" font-weight="bold" fill="#000" stroke="#000" stroke-width="0.35" textLength="11.45" lengthAdjust="spacingAndGlyphs">&gt;</text>
<text x="599.79" y="1118.5" font-size="21.74" font-weight="bold" fill="#000" stroke="#000" stroke-width="0.35" textLength="21.25" lengthAdjust="spacingAndGlyphs">11</text>
<text x="899.79" y="1073.88" font-size="23.42" font-weight="bold" fill="#000" stroke="#000" stroke-width="0.8" textLength="94.17" lengthAdjust="spacingAndGlyphs">Trypsin 5</text>
<text transform="translate(816.89,1339.99) rotate(-90)" x="0" y="0" font-size="19.57" font-weight="bold" fill="#000" stroke="#000" stroke-width="1.1" textLength="203.73" lengthAdjust="spacingAndGlyphs">[fold change] vs control</text>
<rect x="865" y="1175.2" width="74.8" height="193.1" fill="#808080"/>
<path d="M867.5,1368.3 L867.5,1177.7 L937.3,1177.7 L937.3,1368.3" fill="none" stroke="#404040" stroke-width="5" stroke-linejoin="miter"/>
<rect x="953.4" y="1307" width="75" height="61.3" fill="url(#hatch)"/>
<path d="M955.9,1368.3 L955.9,1309.5 L1025.9,1309.5 L1025.9,1368.3" fill="none" stroke="#404040" stroke-width="5" stroke-linejoin="miter"/>
<line x1="902.5" y1="1160.9" x2="902.5" y2="1194.2" stroke="#404040" stroke-width="3" />
<line x1="884.9" y1="1160.9" x2="920.1" y2="1160.9" stroke="#404040" stroke-width="3.4" stroke-linecap="round"/>
<line x1="884.9" y1="1194.2" x2="920.1" y2="1194.2" stroke="#404040" stroke-width="3.4" stroke-linecap="round"/>
<line x1="990.9" y1="1304.5" x2="990.9" y2="1313" stroke="#404040" stroke-width="3" />
<line x1="973.7" y1="1304.5" x2="1008.1" y2="1304.5" stroke="#404040" stroke-width="3.4" stroke-linecap="round"/>
<line x1="973.7" y1="1313" x2="1008.1" y2="1313" stroke="#404040" stroke-width="3.4" stroke-linecap="round"/>
<line x1="858.7" y1="1101.1" x2="858.7" y2="1370.9" stroke="#000" stroke-width="5" />
<line x1="846.8" y1="1103.5" x2="858.7" y2="1103.5" stroke="#000" stroke-width="4.5" />
<text x="838.19" y="1109.22" font-size="17.57" font-weight="bold" fill="#000" stroke="#000" stroke-width="0.45" textLength="9.45" lengthAdjust="spacingAndGlyphs">5</text>
<line x1="846.8" y1="1156.45" x2="858.7" y2="1156.45" stroke="#000" stroke-width="4.5" />
<text x="838.46" y="1162.35" font-size="17.83" font-weight="bold" fill="#000" stroke="#000" stroke-width="0.45" textLength="8.84" lengthAdjust="spacingAndGlyphs">4</text>
<line x1="846.8" y1="1209.4" x2="858.7" y2="1209.4" stroke="#000" stroke-width="4.5" />
<text x="838.27" y="1215.13" font-size="17.32" font-weight="bold" fill="#000" stroke="#000" stroke-width="0.45" textLength="9.55" lengthAdjust="spacingAndGlyphs">3</text>
<line x1="846.8" y1="1262.35" x2="858.7" y2="1262.35" stroke="#000" stroke-width="4.5" />
<text x="838.08" y="1268.25" font-size="17.57" font-weight="bold" fill="#000" stroke="#000" stroke-width="0.45" textLength="9.85" lengthAdjust="spacingAndGlyphs">2</text>
<line x1="846.8" y1="1315.3" x2="858.7" y2="1315.3" stroke="#000" stroke-width="4.5" />
<text x="837.61" y="1321.2" font-size="17.83" font-weight="bold" fill="#000" stroke="#000" stroke-width="0.45" textLength="10.06" lengthAdjust="spacingAndGlyphs">1</text>
<text x="837.98" y="1374.33" font-size="16.9" font-weight="bold" fill="#000" stroke="#000" stroke-width="0.45" textLength="9.95" lengthAdjust="spacingAndGlyphs">0</text>
<line x1="844.7" y1="1368.3" x2="1035.8" y2="1368.3" stroke="#000" stroke-width="5" />
<line x1="902.5" y1="1368" x2="902.5" y2="1379.3" stroke="#000" stroke-width="4.5" />
<text x="894.66" y="1397.2" font-size="19.72" font-weight="bold" fill="#000" stroke="#000" stroke-width="0.8" textLength="15.22" lengthAdjust="spacingAndGlyphs">C</text>
<line x1="990.2" y1="1368" x2="990.2" y2="1379.3" stroke="#000" stroke-width="4.5" />
<text x="981.74" y="1397.4" font-size="20.29" font-weight="bold" fill="#000" stroke="#000" stroke-width="0.8" textLength="16.21" lengthAdjust="spacingAndGlyphs">D</text>
<line x1="874.3" y1="1103.8" x2="874.3" y2="1117" stroke="#000" stroke-width="1.5" />
<line x1="1021.3" y1="1103.8" x2="1021.3" y2="1117" stroke="#000" stroke-width="1.5" />
<line x1="875.8" y1="1110.2" x2="907.9" y2="1110.2" stroke="#000" stroke-width="1.5" stroke-dasharray="3.1,1.9"/>
<line x1="989.4" y1="1110.2" x2="1021.3" y2="1110.2" stroke="#000" stroke-width="1.5" stroke-dasharray="3.1,1.9"/>
<text x="924.04" y="1118.9" font-size="20.87" font-weight="normal" fill="#000" stroke="#000" stroke-width="0" textLength="14.67" lengthAdjust="spacingAndGlyphs">Δ</text>
<text x="941.95" y="1117.56" font-size="17.59" font-weight="bold" fill="#000" stroke="#000" stroke-width="0.35" textLength="12.37" lengthAdjust="spacingAndGlyphs">&gt;</text>
<text x="957.84" y="1118.5" font-size="21.43" font-weight="bold" fill="#000" stroke="#000" stroke-width="0.35" textLength="12.05" lengthAdjust="spacingAndGlyphs">2</text>
</svg></body></html>
